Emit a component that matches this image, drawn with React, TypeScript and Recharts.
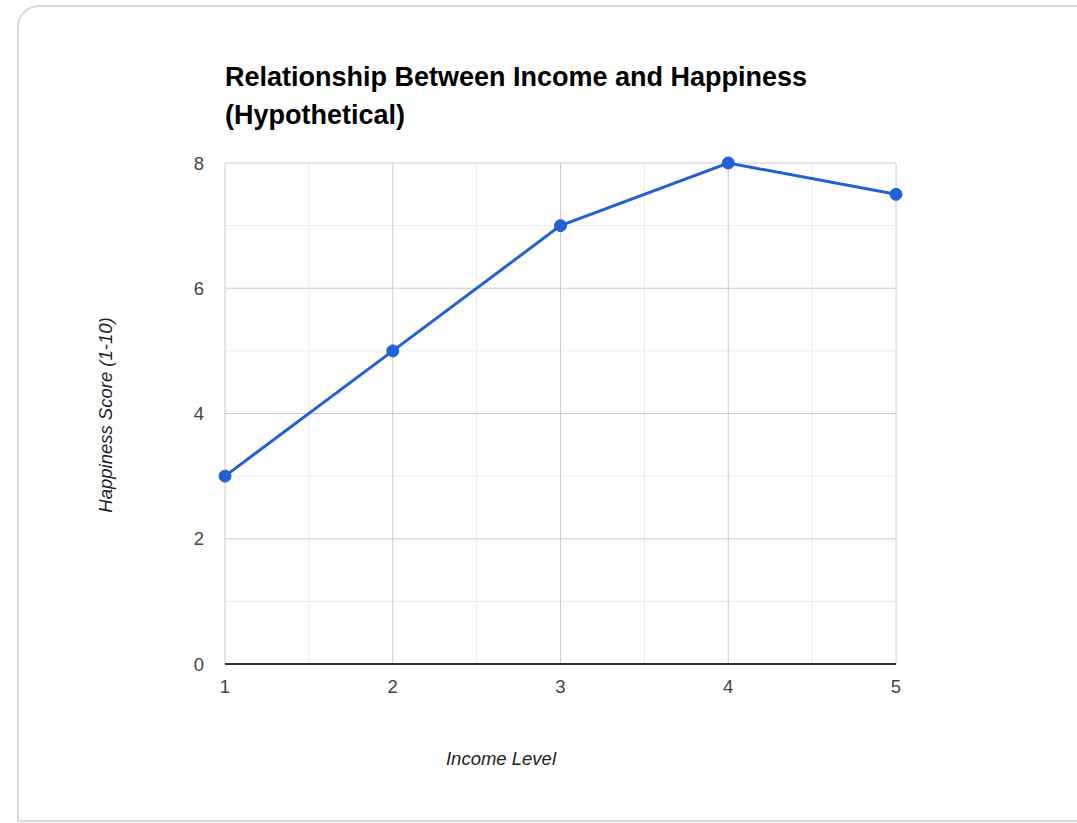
import { LineChart, Line, XAxis, YAxis, CartesianGrid } from "recharts";

// hypothetical data
const incomeLevels = [1, 2, 3, 4, 5];
const happinessScores = [3, 5, 7, 8, 7.5];
const yTicks = [0, 2, 4, 6, 8];
const yMinor = [1, 3, 5, 7];
const xMinor = [1.5, 2.5, 3.5, 4.5];

const FONT = '"Liberation Sans", Arial, sans-serif';

export default function App() {
  const data = incomeLevels.map((x, i) => ({ income: x, happiness: happinessScores[i] }));

  return (
    <div style={{ position: "absolute", left: 0, top: 0, width: 1077, height: 823, overflow: "hidden", background: "#fff", fontFamily: FONT }}>
      {/* card frame */}
      <div
        style={{
          position: "absolute",
          left: 17,
          top: 5,
          width: 1100,
          height: 813,
          border: "2px solid #d9d9d9",
          borderRight: "none",
          borderTopLeftRadius: 22,
        }}
      />
      <div
        style={{
          position: "absolute",
          left: 225,
          top: 58,
          fontSize: 27,
          lineHeight: "38px",
          fontWeight: "bold",
          color: "#000",
          whiteSpace: "nowrap",
        }}
      >
        Relationship Between Income and Happiness
        <br />
        (Hypothetical)
      </div>
      <div style={{ position: "absolute", left: 0, top: 0 }}>
        <LineChart width={1077} height={823} data={data} margin={{ top: 163, right: 181, bottom: 129, left: 195 }}>
          <CartesianGrid stroke="#ebebeb" horizontalValues={yMinor} verticalValues={xMinor} />
          <CartesianGrid stroke="#cccccc" horizontalValues={yTicks} verticalValues={incomeLevels} />
          <XAxis
            dataKey="income"
            type="number"
            domain={[1, 5]}
            ticks={incomeLevels}
            height={30}
            tickLine={false}
            tickSize={0}
            tickMargin={16}
            axisLine={{ stroke: "#333", strokeWidth: 2 }}
            tick={{ fill: "#444", fontSize: 18.5, fontFamily: FONT }}
          />
          <YAxis
            type="number"
            domain={[0, 8]}
            ticks={yTicks}
            width={30}
            axisLine={false}
            tickLine={false}
            tickSize={0}
            tickMargin={21}
            tick={{ fill: "#444", fontSize: 18.5, fontFamily: FONT }}
          />
          <Line
            dataKey="happiness"
            type="linear"
            stroke="#2160d6"
            strokeWidth={3}
            dot={{ r: 6, fill: "#2160d6", stroke: "#2160d6", strokeWidth: 1 }}
            isAnimationActive={false}
          />
        </LineChart>
      </div>
      <div
        style={{
          position: "absolute",
          left: 106,
          top: 415,
          transform: "translate(-50%, -50%) rotate(-90deg)",
          whiteSpace: "nowrap",
          fontSize: 18.5,
          fontStyle: "italic",
          color: "#222",
        }}
      >
        Happiness Score (1-10)
      </div>
      <div
        style={{
          position: "absolute",
          left: 501,
          top: 759,
          transform: "translate(-50%, -50%)",
          whiteSpace: "nowrap",
          fontSize: 18.5,
          fontStyle: "italic",
          color: "#222",
        }}
      >
        Income Level
      </div>
    </div>
  );
}
